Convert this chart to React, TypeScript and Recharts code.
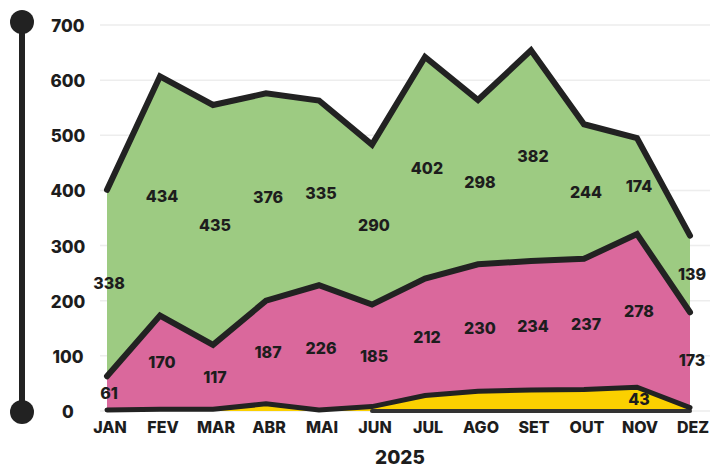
import { Area, CartesianGrid, ComposedChart, Label, LabelList, Line, ReferenceLine, XAxis, YAxis } from 'recharts'

const months = ['JAN', 'FEV', 'MAR', 'ABR', 'MAI', 'JUN', 'JUL', 'AGO', 'SET', 'OUT', 'NOV', 'DEZ']
const yellowValues = [2, 3, 3, 13, 2, 8, 28, 36, 38, 39, 43, 6]
const pinkValues = [61, 170, 117, 187, 226, 185, 212, 230, 234, 237, 278, 173]
const greenValues = [338, 434, 435, 376, 335, 290, 402, 298, 382, 244, 174, 139]
const yTicks = [0, 100, 200, 300, 400, 500, 600, 700]
const yearLabel = '2025'

// stacked tops for the outlines, band middles for the value labels
const data = months.map((month, i) => {
  const y = yellowValues[i]
  const p = pinkValues[i]
  const g = greenValues[i]
  return {
    month,
    yellow: y,
    pink: p,
    green: g,
    yellowTop: y,
    pinkTop: y + p,
    greenTop: y + p + g,
    yellowMid: y / 2,
    pinkMid: y + p / 2,
    greenMid: y + p + g / 2,
  }
})

const font = 'Inter, "DejaVu Sans", sans-serif'
const ink = '#1d1d1d'

function YTick({ x, y, payload }: any) {
  return (
    <text x={x - 24} y={y} dy={7} textAnchor="middle" fill={ink} fontSize={17} fontWeight={800} fontFamily={font}>
      {payload.value}
    </text>
  )
}

function XTick({ x, y, payload }: any) {
  return (
    <text x={x + 3} y={y} dy={14} textAnchor="middle" fill={ink} fontSize={16} fontWeight={800} fontFamily={font}>
      {payload.value}
    </text>
  )
}

function valueLabel(minValue: number) {
  return ({ x, y, value }: any) => {
    if (value < minValue) return null
    return (
      <text x={x + 2} y={y} dy={6} textAnchor="middle" fill={ink} fontSize={16} fontWeight={800} fontFamily={font}>
        {value}
      </text>
    )
  }
}

const hiddenLine = { stroke: 'none', dot: false, activeDot: false, isAnimationActive: false, legendType: 'none' as const }

export default function App() {
  return (
    <div style={{ position: 'absolute', left: 0, top: 0, width: 710, height: 470, background: '#fff' }}>
      <svg width={50} height={440} style={{ position: 'absolute', left: 0, top: 0 }}>
        <line x1={22} y1={22} x2={22} y2={412} stroke="#222" strokeWidth={6} />
        <circle cx={22} cy={22} r={12} fill="#222" />
        <circle cx={22} cy={412} r={12} fill="#222" />
      </svg>
      <ComposedChart width={710} height={470} data={data} margin={{ top: 25, right: 0, bottom: 0, left: 0 }}>
        <XAxis
          dataKey="month"
          axisLine={false}
          tickLine={false}
          height={59}
          interval={0}
          padding={{ left: 7, right: 20 }}
          tick={<XTick />}
        >
          <Label value={yearLabel} position="insideBottom" offset={6} dx={-5} fill={ink} fontSize={19} fontWeight={800} fontFamily={font} />
        </XAxis>
        <YAxis
          domain={[0, 700]}
          ticks={yTicks}
          width={100}
          interval={0}
          axisLine={false}
          tickLine={false}
          tick={<YTick />}
        />
        <Area type="linear" dataKey="yellow" stackId="s" stroke="none" fill="#FBD000" fillOpacity={1} isAnimationActive={false} />
        <Area type="linear" dataKey="pink" stackId="s" stroke="none" fill="#DA689C" fillOpacity={1} isAnimationActive={false} />
        <Area type="linear" dataKey="green" stackId="s" stroke="none" fill="#9DCB82" fillOpacity={1} isAnimationActive={false} />
        <CartesianGrid vertical={false} stroke="#d6d6d6" strokeOpacity={0.45} strokeWidth={1.5} />
        <ReferenceLine
          segment={[{ x: 'JUN', y: 0 }, { x: 'DEZ', y: 0 }]}
          stroke="#333"
          strokeWidth={4}
          strokeLinecap="round"
        />
        <Line type="linear" dataKey="yellowTop" stroke="#222" strokeWidth={5} strokeLinecap="round" dot={false} activeDot={false} isAnimationActive={false} />
        <Line type="linear" dataKey="pinkTop" stroke="#222" strokeWidth={6} strokeLinecap="round" dot={false} activeDot={false} isAnimationActive={false} />
        <Line type="linear" dataKey="greenTop" stroke="#222" strokeWidth={6} strokeLinecap="round" dot={false} activeDot={false} isAnimationActive={false} />
        <Line type="linear" dataKey="yellowMid" {...hiddenLine}>
          <LabelList dataKey="yellow" content={valueLabel(40)} />
        </Line>
        <Line type="linear" dataKey="pinkMid" {...hiddenLine}>
          <LabelList dataKey="pink" content={valueLabel(0)} />
        </Line>
        <Line type="linear" dataKey="greenMid" {...hiddenLine}>
          <LabelList dataKey="green" content={valueLabel(0)} />
        </Line>
      </ComposedChart>
    </div>
  )
}
